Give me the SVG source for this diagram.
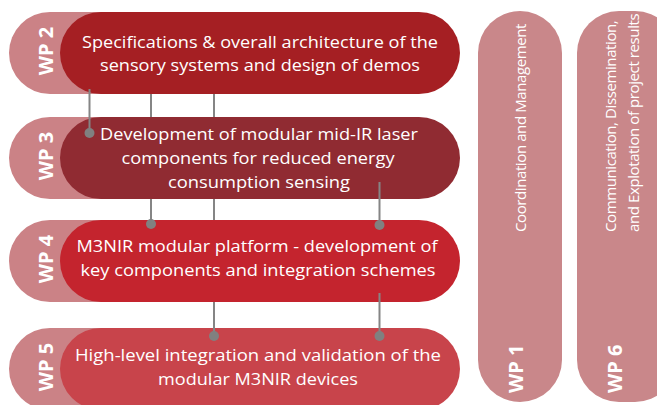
<svg xmlns="http://www.w3.org/2000/svg" width="657" height="405" viewBox="0 0 657 405">
<style>
.lt{fill:#cb8286}
.t{font-family:"Open Sans","Noto Sans",sans-serif;font-size:17px;fill:#fff;text-anchor:middle}
.tr{font-family:"Open Sans","Noto Sans",sans-serif;font-size:15px;letter-spacing:-0.4px;fill:#fff}
.wp{font-family:"Open Sans","Noto Sans",sans-serif;font-size:20px;font-weight:bold;fill:#fff;text-anchor:middle}
.wps{font-family:"Open Sans","Noto Sans",sans-serif;font-size:20px;font-weight:bold;fill:#fff}
.ln{stroke:#858585;stroke-width:2;fill:none}
.dot{fill:#808080}
</style>
<rect width="657" height="405" fill="#fff"/>
<g id="wp2">
<rect class="lt" x="9" y="12" width="200" height="82" rx="41"/>
<rect x="60" y="12" width="400" height="82" rx="41" fill="#a51f23"/>
<text class="wp" transform="translate(53,51) rotate(-90)">WP 2</text>
<text class="t" x="260" y="48" textLength="356" lengthAdjust="spacingAndGlyphs">Specifications &amp; overall architecture of the</text>
<text class="t" x="260" y="71" textLength="320" lengthAdjust="spacingAndGlyphs">sensory systems and design of demos</text>
</g>
<g id="wp3">
<rect class="lt" x="9" y="117" width="200" height="82" rx="41"/>
<rect x="60" y="117" width="400" height="82" rx="41" fill="#902b32"/>
<text class="wp" transform="translate(53,156) rotate(-90)">WP 3</text>
<text class="t" x="259" y="140" textLength="318" lengthAdjust="spacingAndGlyphs">Development of modular mid-IR laser</text>
<text class="t" x="258" y="164" textLength="273" lengthAdjust="spacingAndGlyphs">components for reduced energy</text>
<text class="t" x="259" y="188" textLength="182" lengthAdjust="spacingAndGlyphs">consumption sensing</text>
</g>
<g id="wp4">
<rect class="lt" x="9" y="220" width="200" height="82" rx="41"/>
<rect x="60" y="220" width="400" height="82" rx="41" fill="#c4242e"/>
<text class="wp" transform="translate(53,259) rotate(-90)">WP 4</text>
<text class="t" x="257" y="252" textLength="361" lengthAdjust="spacingAndGlyphs">M3NIR modular platform - development of</text>
<text class="t" x="258" y="276" textLength="355" lengthAdjust="spacingAndGlyphs">key components and integration schemes</text>
</g>
<g id="wp5">
<rect class="lt" x="9" y="328" width="200" height="82" rx="41"/>
<rect x="60" y="328" width="400" height="82" rx="41" fill="#c8444b"/>
<text class="wp" transform="translate(53,367) rotate(-90)">WP 5</text>
<text class="t" x="258" y="361" textLength="366" lengthAdjust="spacingAndGlyphs">High-level integration and validation of the</text>
<text class="t" x="258" y="385" textLength="200" lengthAdjust="spacingAndGlyphs">modular M3NIR devices</text>
</g>
<g id="wp1">
<rect x="478" y="11" width="84" height="391" rx="42" fill="#c9878a"/>
<text class="wps" transform="translate(523,393) rotate(-90)">WP 1</text>
<text class="tr" transform="translate(526,232) rotate(-90)">Coordination and Management</text>
</g>
<g id="wp6">
<rect x="577" y="11" width="100" height="391" rx="42" fill="#c9878a"/>
<text class="wps" transform="translate(622,393) rotate(-90)">WP 6</text>
<text class="tr" transform="translate(616,232) rotate(-90)">Communication, Dissemination,</text>
<text class="tr" transform="translate(639,232) rotate(-90)">and Explotation of project results</text>
</g>
<g id="connectors">
<path class="ln" d="M89.5 89V133"/>
<path class="ln" d="M151 94V117M151 199V224"/>
<path class="ln" d="M214 94V117M214 199V220M214 302V336"/>
<path class="ln" d="M379.5 182V225M379.5 293V336"/>
<circle class="dot" cx="89.5" cy="133" r="5"/>
<circle class="dot" cx="151" cy="224" r="5"/>
<circle class="dot" cx="214" cy="336" r="5"/>
<circle class="dot" cx="379.5" cy="225" r="5"/>
<circle class="dot" cx="379.5" cy="336" r="5"/>
</g>
</svg>
